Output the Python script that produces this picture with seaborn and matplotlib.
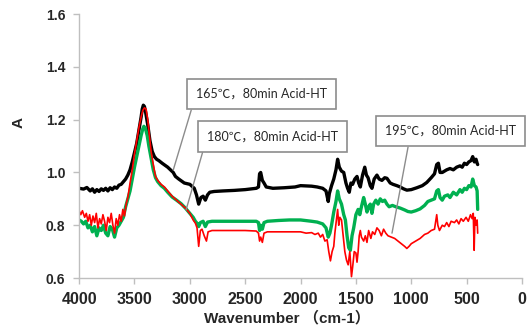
import matplotlib
matplotlib.use("Agg")
import matplotlib.pyplot as plt
import seaborn as sns
import pandas as pd

# FTIR spectra (wavenumber, absorbance)
wn_165 = [4000, 3960, 3930, 3900, 3880, 3860, 3840, 3820, 3800, 3780, 3760, 3740, 3720, 3700,
          3680, 3660, 3640, 3620, 3600, 3580, 3560, 3540, 3520, 3500, 3480, 3460, 3440, 3430,
          3420, 3410, 3400, 3380, 3360, 3340, 3320, 3300, 3280, 3250, 3200, 3150, 3130, 3100,
          3050, 3000, 2960, 2940, 2920, 2900, 2880, 2860, 2840, 2820, 2780, 2700, 2600, 2500,
          2400, 2380, 2370, 2360, 2345, 2330, 2310, 2250, 2150, 2050, 2000, 1900, 1850, 1800,
          1770, 1750, 1740, 1720, 1700, 1680, 1665, 1650, 1630, 1610, 1590, 1575, 1560, 1545,
          1530, 1510, 1490, 1475, 1460, 1440, 1420, 1405, 1390, 1370, 1355, 1335, 1310, 1290,
          1265, 1240, 1220, 1190, 1165, 1130, 1100, 1070, 1040, 1000, 950, 900, 860, 820, 790,
          770, 755, 740, 720, 700, 680, 650, 620, 590, 560, 540, 520, 500, 480, 460, 445, 430,
          415, 405, 400]
a_165 = [0.940, 0.937, 0.943, 0.930, 0.938, 0.925, 0.935, 0.928, 0.938, 0.932, 0.940, 0.930, 0.942, 0.935,
         0.945, 0.940, 0.952, 0.955, 0.965, 0.975, 0.990, 1.010, 1.040, 1.075, 1.110, 1.160, 1.210, 1.240,
         1.255, 1.250, 1.230, 1.180, 1.120, 1.080, 1.060, 1.050, 1.045, 1.035, 1.020, 1.000, 0.985, 0.975,
         0.960, 0.955, 0.940, 0.915, 0.880, 0.905, 0.910, 0.895, 0.915, 0.925, 0.928, 0.930, 0.932, 0.935,
         0.940, 0.945, 0.995, 1.000, 0.970, 0.960, 0.945, 0.940, 0.942, 0.945, 0.950, 0.948, 0.945, 0.940,
         0.930, 0.890, 0.920, 0.950, 0.975, 1.010, 1.050, 1.020, 1.005, 1.000, 0.960, 0.940, 0.925, 0.960,
         0.955, 0.975, 0.985, 0.960, 0.945, 0.990, 1.020, 0.990, 0.980, 0.950, 0.940, 0.975, 0.990, 0.975,
         0.970, 0.980, 0.978, 0.960, 0.955, 0.950, 0.945, 0.938, 0.933, 0.935, 0.942, 0.950, 0.962, 0.980, 0.995,
         1.030, 1.035, 1.000, 1.000, 1.005, 1.010, 1.015, 1.010, 1.020, 1.025, 1.020, 1.035, 1.030, 1.040, 1.045, 1.060, 1.040,
         1.050, 1.035, 1.030]

wn_180 = [4000, 3980, 3960, 3940, 3920, 3900, 3880, 3860, 3840, 3820, 3800, 3780, 3760, 3740,
          3720, 3700, 3680, 3660, 3640, 3620, 3600, 3580, 3560, 3540, 3520, 3500, 3480, 3460,
          3440, 3425, 3415, 3400, 3385, 3370, 3350, 3330, 3310, 3290, 3260, 3230, 3200, 3160,
          3120, 3080, 3040, 3000, 2970, 2950, 2930, 2920, 2905, 2880, 2860, 2840, 2800, 2700,
          2600, 2500, 2400, 2380, 2370, 2360, 2345, 2330, 2300, 2200, 2100, 2000, 1900, 1850,
          1800, 1770, 1750, 1735, 1720, 1700, 1680, 1665, 1650, 1630, 1610, 1595, 1580, 1565,
          1550, 1535, 1520, 1500, 1480, 1465, 1450, 1430, 1415, 1400, 1385, 1370, 1355, 1340,
          1320, 1300, 1280, 1260, 1240, 1220, 1200, 1170, 1140, 1100, 1060, 1030, 1000, 960,
          920, 880, 850, 820, 790, 770, 755, 740, 720, 700, 670, 650, 620, 590, 560, 540, 520,
          500, 480, 460, 445, 430, 415, 405, 400]
a_180 = [0.820, 0.815, 0.805, 0.815, 0.790, 0.800, 0.775, 0.795, 0.760, 0.790, 0.780, 0.800, 0.770, 0.760,
         0.795, 0.785, 0.755, 0.790, 0.800, 0.815, 0.830, 0.870, 0.900, 0.930, 0.975, 1.020, 1.060, 1.100,
         1.140, 1.165, 1.175, 1.165, 1.140, 1.100, 1.055, 1.010, 0.980, 0.965, 0.950, 0.940, 0.925, 0.907,
         0.895, 0.882, 0.865, 0.845, 0.830, 0.815, 0.805, 0.795, 0.810, 0.815, 0.795, 0.812, 0.815, 0.815,
         0.815, 0.815, 0.815, 0.810, 0.780, 0.800, 0.785, 0.810, 0.815, 0.818, 0.820, 0.820, 0.815, 0.812,
         0.805, 0.790, 0.755, 0.770, 0.800, 0.850, 0.890, 0.930, 0.900, 0.880, 0.840, 0.820, 0.760, 0.715,
         0.705, 0.760, 0.790, 0.840, 0.860, 0.840, 0.870, 0.905, 0.880, 0.850, 0.870, 0.880, 0.845, 0.880,
         0.895, 0.880, 0.900, 0.890, 0.895, 0.880, 0.870, 0.875, 0.870, 0.865, 0.858, 0.852, 0.850, 0.855,
         0.862, 0.875, 0.890, 0.895, 0.900, 0.930, 0.935, 0.905, 0.895, 0.910, 0.915, 0.905, 0.925, 0.915, 0.935, 0.925, 0.940,
         0.935, 0.950, 0.945, 0.975, 0.950, 0.945, 0.930, 0.860]

wn_195 = [4000, 3985, 3970, 3950, 3935, 3920, 3905, 3890, 3875, 3860, 3845, 3830, 3815, 3800,
          3785, 3770, 3755, 3740, 3725, 3710, 3695, 3680, 3665, 3650, 3635, 3620, 3605, 3590,
          3575, 3560, 3540, 3520, 3500, 3480, 3460, 3440, 3425, 3410, 3395, 3380, 3365, 3350,
          3330, 3310, 3290, 3260, 3230, 3200, 3160, 3120, 3080, 3040, 3000, 2970, 2950, 2935,
          2920, 2905, 2890, 2870, 2850, 2835, 2800, 2700, 2600, 2500, 2400, 2380, 2370, 2360,
          2345, 2330, 2300, 2200, 2100, 2000, 1950, 1900, 1870, 1840, 1820, 1800, 1780, 1760,
          1745, 1730, 1715, 1700, 1690, 1675, 1665, 1655, 1645, 1630, 1615, 1600, 1585, 1570,
          1555, 1540, 1530, 1515, 1500, 1490, 1480, 1470, 1460, 1450, 1430, 1415, 1400, 1385,
          1365, 1350, 1330, 1310, 1290, 1270, 1250, 1230, 1210, 1180, 1150, 1120, 1090, 1060,
          1040, 1020, 1000, 960, 920, 880, 850, 820, 790, 770, 760, 745, 720, 700, 680, 660,
          640, 610, 590, 570, 550, 530, 505, 485, 465, 450, 440, 432, 425, 415, 405, 400]
a_195 = [0.855, 0.840, 0.855, 0.830, 0.845, 0.815, 0.840, 0.800, 0.835, 0.810, 0.845, 0.790, 0.825, 0.805,
         0.840, 0.815, 0.780, 0.830, 0.810, 0.845, 0.800, 0.770, 0.825, 0.800, 0.840, 0.815, 0.860, 0.835,
         0.880, 0.905, 0.960, 1.010, 1.070, 1.120, 1.170, 1.210, 1.235, 1.245, 1.240, 1.200, 1.140, 1.080,
         1.030, 0.985, 0.970, 0.955, 0.945, 0.930, 0.910, 0.895, 0.880, 0.865, 0.845, 0.820, 0.808, 0.790,
         0.720, 0.780, 0.785, 0.760, 0.740, 0.775, 0.780, 0.780, 0.780, 0.780, 0.778, 0.770, 0.740, 0.755,
         0.735, 0.770, 0.775, 0.775, 0.775, 0.775, 0.770, 0.772, 0.765, 0.770, 0.755, 0.765, 0.740, 0.745,
         0.700, 0.665, 0.700, 0.720, 0.770, 0.825, 0.860, 0.800, 0.830, 0.820, 0.760, 0.700, 0.668, 0.650,
         0.700, 0.605, 0.640, 0.700, 0.695, 0.660, 0.700, 0.760, 0.780, 0.755, 0.740, 0.760, 0.735, 0.780,
         0.750, 0.775, 0.765, 0.790, 0.780, 0.760, 0.785, 0.770, 0.760, 0.755, 0.750, 0.740, 0.730, 0.720,
         0.712, 0.720, 0.730, 0.740, 0.750, 0.765, 0.770, 0.780, 0.785, 0.840, 0.800, 0.780, 0.800, 0.795, 0.810, 0.795,
         0.815, 0.810, 0.820, 0.805, 0.825, 0.815, 0.830, 0.815, 0.840, 0.825, 0.845, 0.705, 0.830, 0.800, 0.820, 0.770]

labels = ["165℃，80min Acid-HT", "180℃，80min Acid-HT", "195℃，80min Acid-HT"]
colors = ["#000000", "#00b050", "#ff0000"]

sns.set_style("white")
plt.rcParams["font.family"] = ["Liberation Sans", "Noto Sans CJK SC"]

fig = plt.figure(figsize=(5.31, 3.29), dpi=100)
ax = fig.add_axes([0.149, 0.155, 0.834, 0.802])

series = [(wn_165, a_165, 2.4), (wn_180, a_180, 2.4), (wn_195, a_195, 1.2)]
for (w, a, lw), c in zip(series, colors):
    df = pd.DataFrame({"wn": w, "A": a})
    sns.lineplot(data=df, x="wn", y="A", sort=False, color=c, linewidth=lw, ax=ax)

ax.set_xlim(4000, 0)
ax.set_ylim(0.6, 1.6)
ax.set_xticks(range(4000, -1, -500))
ax.set_yticks([0.6, 0.8, 1.0, 1.2, 1.4, 1.6])
ax.set_yticklabels(["0.6", "0.8", "1.0", "1.2", "1.4", "1.6"])
for t in ax.get_xticklabels():
    t.set_fontweight("bold")
    t.set_fontsize(11.5)
for t in ax.get_yticklabels():
    t.set_fontweight("bold")
    t.set_fontsize(10)

for s in ["top", "right"]:
    ax.spines[s].set_visible(False)
for s in ["left", "bottom"]:
    ax.spines[s].set_color("#bfbfbf")
    ax.spines[s].set_linewidth(1)
ax.tick_params(axis="both", which="both", direction="out", length=4, width=1,
               color="#bfbfbf", pad=6, left=True, bottom=True)

ax.set_xlabel("Wavenumber （cm-1）", fontweight="bold", fontsize=11)
ax.set_ylabel("A", fontweight="bold", fontsize=11)
ax.xaxis.set_label_coords(0.47, -0.125)
ax.yaxis.set_label_coords(-0.12, 0.59)

# callout boxes
box = dict(boxstyle="square,pad=0.75", fc="white", ec="#8c8c8c", lw=1.2)
txt_font = dict(fontsize=9, family=["Lato", "Noto Sans CJK SC"])
ax.annotate(labels[0], xy=(3150, 1.009), xytext=(2944, 1.297), ha="left", va="center",
            bbox=box, arrowprops=dict(arrowstyle="-", color="#8c8c8c", lw=1, relpos=(0, 0.5),
                                      shrinkA=0, shrinkB=0), **txt_font)
ax.annotate(labels[1], xy=(3034, 0.858), xytext=(2844, 1.136), ha="left", va="center",
            bbox=box, arrowprops=dict(arrowstyle="-", color="#8c8c8c", lw=1, relpos=(0, 0.5),
                                      shrinkA=0, shrinkB=0), **txt_font)
ax.annotate(labels[2], xy=(1174, 0.770), xytext=(1237, 1.157), ha="left", va="center",
            bbox=box, arrowprops=dict(arrowstyle="-", color="#8c8c8c", lw=1, relpos=(0.19, 0),
                                      shrinkA=0, shrinkB=0), annotation_clip=False, **txt_font)

fig.savefig("out.png", dpi=100)
